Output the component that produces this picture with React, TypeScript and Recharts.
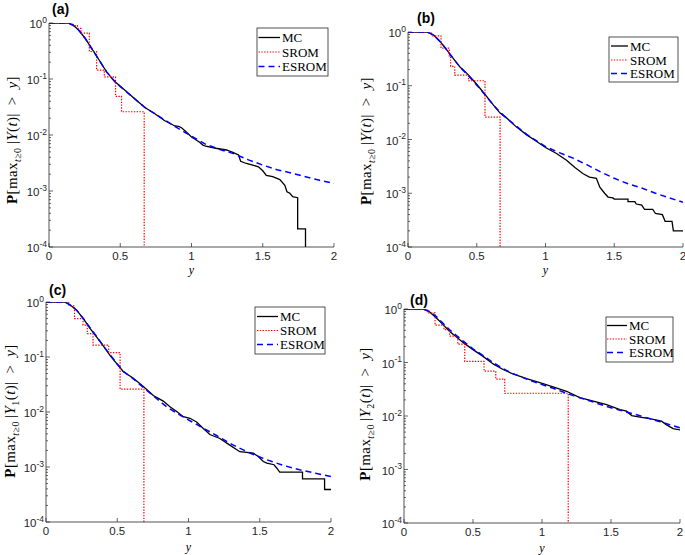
import React from "react";
import { Line, LineChart, XAxis, YAxis } from "recharts";

type Pt = [number, number];

// values: [y, P(max |Y| > y)]
// a value of 1e-6 stands for "dropped to zero" (clipped below 1e-4)
const mcA: Pt[] = [
  [0, 1], [0.135, 1], [0.17, 0.91], [0.206, 0.76], [0.252, 0.54], [0.3, 0.35],
  [0.346, 0.23], [0.404, 0.134], [0.463, 0.089], [0.533, 0.063], [0.603, 0.044],
  [0.673, 0.031], [0.743, 0.024], [0.813, 0.018], [0.883, 0.0145], [0.91, 0.0142],
  [0.93, 0.0135], [0.96, 0.0115], [1.0, 0.0092], [1.03, 0.0082], [1.057, 0.0074],
  [1.08, 0.0066], [1.1, 0.0063], [1.17, 0.0058], [1.245, 0.0054], [1.29, 0.0049],
  [1.33, 0.0044], [1.345, 0.0034], [1.385, 0.0031], [1.43, 0.0029], [1.47, 0.0027],
  [1.5, 0.0023], [1.525, 0.0019], [1.57, 0.0018], [1.62, 0.0016], [1.655, 0.00126],
  [1.67, 0.00097], [1.69, 0.00091], [1.71, 0.00079], [1.745, 0.00076],
  [1.745, 0.00021], [1.8, 0.00021], [1.8, 1e-6],
];
const sromA: Pt[] = [
  [0, 1], [0.17, 0.9], [0.2, 0.8], [0.224, 0.66], [0.283, 0.31], [0.334, 0.144],
  [0.388, 0.109], [0.467, 0.049], [0.509, 0.026], [0.668, 1e-6], [2, 1e-6],
];
const esromA: Pt[] = [
  [0, 1], [0.135, 1], [0.17, 0.91], [0.206, 0.76], [0.252, 0.54], [0.3, 0.35],
  [0.346, 0.23], [0.404, 0.134], [0.463, 0.089], [0.533, 0.062], [0.603, 0.044],
  [0.673, 0.031], [0.743, 0.024], [0.813, 0.0185], [0.883, 0.0142], [0.95, 0.0113],
  [1.0, 0.0095], [1.1, 0.0068], [1.2, 0.0055], [1.3, 0.0046], [1.4, 0.0036],
  [1.5, 0.0029], [1.6, 0.0024], [1.7, 0.0021], [1.8, 0.0018], [1.9, 0.00155],
  [2.0, 0.00136],
];

const mcB: Pt[] = [
  [0, 1], [0.138, 1], [0.186, 0.88], [0.235, 0.66], [0.283, 0.46], [0.33, 0.32],
  [0.38, 0.22], [0.428, 0.17], [0.476, 0.125], [0.525, 0.089], [0.573, 0.063],
  [0.62, 0.044], [0.67, 0.031], [0.718, 0.025], [0.79, 0.017], [0.863, 0.0122],
  [0.936, 0.0092], [1.0, 0.0071], [1.08, 0.0055], [1.153, 0.0041], [1.214, 0.003],
  [1.274, 0.0023], [1.32, 0.002], [1.37, 0.0019], [1.395, 0.0013], [1.43, 0.001],
  [1.455, 0.00085], [1.49, 0.00082], [1.5, 0.00078], [1.6, 0.00078], [1.6, 0.0007],
  [1.65, 0.0007], [1.66, 0.00063], [1.7, 0.0006], [1.72, 0.0005], [1.78, 0.0005],
  [1.8, 0.00042], [1.85, 0.0004], [1.87, 0.0003], [1.92, 0.0003], [1.93, 0.0002],
  [2.0, 0.0002],
];
const sromB: Pt[] = [
  [0, 1], [0.17, 0.85], [0.24, 0.5], [0.3, 0.36], [0.31, 0.23], [0.34, 0.158],
  [0.44, 0.124], [0.56, 0.026], [0.67, 1e-6], [2, 1e-6],
];
const esromB: Pt[] = [
  [0, 1], [0.138, 1], [0.186, 0.88], [0.235, 0.66], [0.283, 0.46], [0.33, 0.32],
  [0.38, 0.22], [0.428, 0.165], [0.476, 0.12], [0.525, 0.087], [0.573, 0.062],
  [0.62, 0.044], [0.67, 0.032], [0.718, 0.025], [0.79, 0.0175], [0.863, 0.0125],
  [0.936, 0.0094], [1.0, 0.0074], [1.1, 0.0057], [1.2, 0.0045], [1.3, 0.0034],
  [1.4, 0.0025], [1.5, 0.0019], [1.6, 0.0015], [1.7, 0.00125], [1.8, 0.001],
  [1.9, 0.00082], [2.0, 0.00068],
];

const mcC: Pt[] = [
  [0, 1], [0.133, 1], [0.168, 0.89], [0.215, 0.71], [0.262, 0.5], [0.309, 0.33],
  [0.356, 0.23], [0.402, 0.16], [0.449, 0.107], [0.496, 0.076], [0.543, 0.054],
  [0.613, 0.041], [0.683, 0.029], [0.753, 0.02], [0.823, 0.0158], [0.87, 0.0125],
  [0.917, 0.0102], [0.964, 0.0082], [1.01, 0.0077], [1.057, 0.0066], [1.104, 0.005],
  [1.15, 0.0039], [1.22, 0.0033], [1.29, 0.0025], [1.36, 0.0019], [1.455, 0.00178],
  [1.49, 0.00155], [1.525, 0.00126], [1.55, 0.00118], [1.6, 0.0011], [1.62, 0.00095],
  [1.64, 0.00081], [1.8, 0.00081], [1.8, 0.00061], [1.955, 0.00061],
  [1.955, 0.00039], [2.0, 0.00039],
];
const sromC: Pt[] = [
  [0, 1], [0.16, 0.85], [0.2, 0.5], [0.26, 0.38], [0.29, 0.265], [0.33, 0.165],
  [0.44, 0.12], [0.52, 0.026], [0.687, 1e-6], [2, 1e-6],
];
const esromC: Pt[] = [
  [0, 1], [0.133, 1], [0.168, 0.89], [0.215, 0.71], [0.262, 0.5], [0.309, 0.34],
  [0.356, 0.235], [0.402, 0.16], [0.449, 0.11], [0.496, 0.077], [0.543, 0.055],
  [0.613, 0.04], [0.683, 0.028], [0.75, 0.02], [0.85, 0.0122], [0.95, 0.0085],
  [1.08, 0.0055], [1.2, 0.0037], [1.315, 0.0025], [1.43, 0.0018], [1.55, 0.00135],
  [1.66, 0.00108], [1.78, 0.00089], [1.9, 0.00076], [2.0, 0.00067],
];

const mcD: Pt[] = [
  [0, 1], [0.138, 1], [0.186, 0.88], [0.235, 0.68], [0.283, 0.51], [0.331, 0.38],
  [0.38, 0.3], [0.43, 0.235], [0.5, 0.174], [0.573, 0.13], [0.646, 0.094],
  [0.718, 0.074], [0.79, 0.061], [0.888, 0.05], [0.984, 0.042], [1.08, 0.035],
  [1.178, 0.029], [1.274, 0.022], [1.371, 0.019], [1.468, 0.0163], [1.565, 0.0132],
  [1.613, 0.0123], [1.65, 0.0102], [1.71, 0.0095], [1.78, 0.0089], [1.866, 0.008],
  [1.9, 0.0069], [1.95, 0.0058], [2.0, 0.0055],
];
const sromD: Pt[] = [
  [0, 1], [0.17, 0.85], [0.225, 0.5], [0.29, 0.41], [0.33, 0.31], [0.39, 0.22],
  [0.44, 0.105], [0.58, 0.069], [0.665, 0.049], [0.73, 0.0266], [1.19, 1e-6],
  [2, 1e-6],
];
const esromD: Pt[] = [
  [0, 1], [0.138, 1], [0.186, 0.9], [0.235, 0.72], [0.283, 0.54], [0.331, 0.41],
  [0.38, 0.32], [0.43, 0.25], [0.5, 0.18], [0.573, 0.135], [0.646, 0.1],
  [0.718, 0.077], [0.79, 0.062], [0.888, 0.049], [0.984, 0.04], [1.08, 0.033],
  [1.226, 0.024], [1.35, 0.019], [1.47, 0.015], [1.59, 0.0123], [1.71, 0.0101],
  [1.85, 0.0079], [2.0, 0.006],
];

const seriesNames = ["MC", "SROM", "ESROM"];
const xTicks = [0, 0.5, 1, 1.5, 2];
const xTickLabels = ["0", "0.5", "1", "1.5", "2"];
const yDecades = [-4, -3, -2, -1, 0];

// major + minor ticks of the log axis
const yTicks: number[] = [];
yDecades.slice(0, -1).forEach((e) => {
  for (let m = 1; m < 10; m++) yTicks.push(+(m * Math.pow(10, e)).toPrecision(3));
});
yTicks.push(1);

const AXIS = "#262626";
const SANS = "'Liberation Sans', Arial, Helvetica, sans-serif";
const SERIF = "'Liberation Serif', 'Times New Roman', serif";
const RIGHT_PAD = 3;
const BOTTOM = 30;

const rows = (pts: Pt[]) => pts.map(([x, p]) => ({ x, p }));
const isMajor = (v: number) => {
  const l = Math.log10(v);
  return Math.abs(l - Math.round(l)) < 1e-6;
};

interface PanelProps {
  left: number;
  top: number;
  plotLeft: number;
  plotTop: number;
  plotW: number;
  plotH: number;
  mc: Pt[];
  srom: Pt[];
  esrom: Pt[];
}

function Panel({ left, top, plotLeft, plotTop, plotW, plotH, mc, srom, esrom }: PanelProps) {
  const width = plotLeft + plotW + RIGHT_PAD;
  const height = plotTop + plotH + BOTTOM;
  const plotRight = plotLeft + plotW;
  const plotBottom = plotTop + plotH;

  const leftTick = (props: any) => {
    const v = props.payload.value;
    const y = props.y;
    const major = isMajor(v);
    return (
      <g>
        <line x1={plotLeft} x2={plotLeft + (major ? 4 : 2)} y1={y} y2={y} stroke={AXIS} strokeWidth={0.7} />
        {major && (
          <text x={plotLeft - 2} y={y + 5} textAnchor="end" fontFamily={SANS} fontSize={11.5} fill={AXIS}>
            10
            <tspan dy={-5.5} fontSize={8.5}>
              {Math.round(Math.log10(v))}
            </tspan>
          </text>
        )}
      </g>
    );
  };
  const rightTick = (props: any) => {
    const v = props.payload.value;
    const len = isMajor(v) ? 4 : 2;
    return <line x1={plotRight - len} x2={plotRight} y1={props.y} y2={props.y} stroke={AXIS} strokeWidth={0.7} />;
  };
  const bottomTick = (props: any) => {
    const i = xTicks.indexOf(props.payload.value);
    return (
      <g>
        <line x1={props.x} x2={props.x} y1={plotBottom} y2={plotBottom - 4} stroke={AXIS} strokeWidth={0.7} />
        <text x={props.x} y={plotBottom + 13} textAnchor="middle" fontFamily={SANS} fontSize={11.5} fill={AXIS}>
          {xTickLabels[i]}
        </text>
      </g>
    );
  };
  const topTick = (props: any) => (
    <line x1={props.x} x2={props.x} y1={plotTop} y2={plotTop + 4} stroke={AXIS} strokeWidth={0.7} />
  );

  const common = { tickLine: false, tickSize: 0, tickMargin: 0, interval: 0 as const, allowDataOverflow: true, axisLine: { stroke: AXIS, strokeWidth: 0.8 } };

  return (
    <div style={{ position: "absolute", left, top }}>
      <LineChart width={width} height={height} margin={{ top: plotTop, right: RIGHT_PAD, bottom: 0, left: 0 }}>
        <XAxis xAxisId="b" dataKey="x" type="number" domain={[0, 2]} ticks={xTicks} height={BOTTOM} tick={bottomTick} {...common} />
        <XAxis xAxisId="t" orientation="top" dataKey="x" type="number" domain={[0, 2]} ticks={xTicks} height={0} tick={topTick} {...common} />
        <YAxis yAxisId="l" type="number" scale="log" domain={[1e-4, 1]} ticks={yTicks} width={plotLeft} tick={leftTick} {...common} />
        <YAxis yAxisId="r" orientation="right" type="number" scale="log" domain={[1e-4, 1]} ticks={yTicks} width={0} tick={rightTick} {...common} />
        <Line xAxisId="b" yAxisId="l" data={rows(mc)} dataKey="p" name={seriesNames[0]} type="linear" stroke="#000000" strokeWidth={1.3} dot={false} activeDot={false} isAnimationActive={false} />
        <Line xAxisId="b" yAxisId="l" data={rows(srom)} dataKey="p" name={seriesNames[1]} type="stepAfter" stroke="#ff0000" strokeWidth={1.2} strokeDasharray="1.4 1.4" dot={false} activeDot={false} isAnimationActive={false} />
        <Line xAxisId="b" yAxisId="l" data={rows(esrom)} dataKey="p" name={seriesNames[2]} type="linear" stroke="#0000ff" strokeWidth={1.5} strokeDasharray="6 4" dot={false} activeDot={false} isAnimationActive={false} />
      </LineChart>
    </div>
  );
}

function YTitle({ cx, cy, sub }: { cx: number; cy: number; sub?: string }) {
  return (
    <text x={cx} y={cy} transform={`rotate(-90 ${cx} ${cy})`} textAnchor="middle" fontFamily={SERIF} fontSize={15} letterSpacing={0.4} fill="#000">
      <tspan fontWeight="bold">P</tspan>
      <tspan>[max</tspan>
      <tspan dy={3.5} fontSize={10}>
        <tspan fontStyle="italic">t</tspan>≥0
      </tspan>
      <tspan dy={-3.5}>{"\u2009|"}</tspan>
      <tspan fontStyle="italic">Y</tspan>
      {sub && (
        <tspan dy={3.5} fontSize={10}>
          {sub}
        </tspan>
      )}
      <tspan dy={sub ? -3.5 : 0}>(</tspan>
      <tspan fontStyle="italic">t</tspan>
      <tspan>{")|\u2002>\u2002"}</tspan>
      <tspan fontStyle="italic">y</tspan>
      <tspan>]</tspan>
    </text>
  );
}

interface LegendSpec {
  x: number;
  y: number;
  w: number;
  h: number;
  rowY: number[];
  x1: number;
  x2: number;
}

function LegendBox({ x, y, w, h, rowY, x1, x2 }: LegendSpec) {
  const styles = [
    { stroke: "#000000", dash: undefined, sw: 1.3 },
    { stroke: "#ff0000", dash: "1.4 1.4", sw: 1.2 },
    { stroke: "#0000ff", dash: "6 4", sw: 1.5 },
  ];
  return (
    <g>
      <rect x={x} y={y} width={w} height={h} fill="#fff" stroke={AXIS} strokeWidth={0.8} />
      {seriesNames.map((n, i) => (
        <g key={n}>
          <line x1={x1} x2={x2} y1={rowY[i]} y2={rowY[i]} stroke={styles[i].stroke} strokeWidth={styles[i].sw} strokeDasharray={styles[i].dash} />
          <text x={x2 + 2} y={rowY[i] + 4.5} fontFamily={SERIF} fontSize={13} fill="#000">
            {n}
          </text>
        </g>
      ))}
    </g>
  );
}

const legends: LegendSpec[] = [
  { x: 257, y: 28, w: 71, h: 48, rowY: [37.5, 52, 66.5], x1: 258.5, x2: 280 },
  { x: 609, y: 37, w: 69, h: 45, rowY: [46, 60, 73.5], x1: 611, x2: 628 },
  { x: 255, y: 307, w: 70, h: 47, rowY: [316.5, 330.5, 344.5], x1: 257, x2: 278 },
  { x: 606, y: 317, w: 67, h: 45, rowY: [325.5, 339, 352.5], x1: 607, x2: 627 },
];

export default function App() {
  return (
    <div style={{ position: "absolute", left: 0, top: 0, width: 685, height: 555, overflow: "hidden", background: "#fff" }}>
      <Panel left={0} top={0} plotLeft={49} plotTop={23} plotW={285} plotH={224} mc={mcA} srom={sromA} esrom={esromA} />
      <Panel left={345} top={0} plotLeft={63} plotTop={32} plotW={275} plotH={215} mc={mcB} srom={sromB} esrom={esromB} />
      <Panel left={0} top={278} plotLeft={46} plotTop={24} plotW={285} plotH={220} mc={mcC} srom={sromC} esrom={esromC} />
      <Panel left={345} top={278} plotLeft={59} plotTop={31} plotW={276} plotH={214} mc={mcD} srom={sromD} esrom={esromD} />
      <svg width={685} height={555} style={{ position: "absolute", left: 0, top: 0, pointerEvents: "none" }}>
        <g fontFamily={SANS} fontWeight="bold" fontSize={14} fill="#000">
          <text x={52} y={14}>(a)</text>
          <text x={417} y={23}>(b)</text>
          <text x={49} y={295}>(c)</text>
          <text x={410} y={305}>(d)</text>
        </g>
        <YTitle cx={17} cy={140} />
        <YTitle cx={371} cy={141} />
        <YTitle cx={15} cy={411} sub="1" />
        <YTitle cx={370} cy={414} sub="2" />
        <g fontFamily={SERIF} fontStyle="italic" fontSize={12} fill="#000" textAnchor="middle">
          <text x={191.5} y={273.5}>y</text>
          <text x={545.5} y={273.5}>y</text>
          <text x={188.5} y={551}>y</text>
          <text x={542} y={552}>y</text>
        </g>
        {legends.map((l, i) => (
          <LegendBox key={i} {...l} />
        ))}
      </svg>
    </div>
  );
}
